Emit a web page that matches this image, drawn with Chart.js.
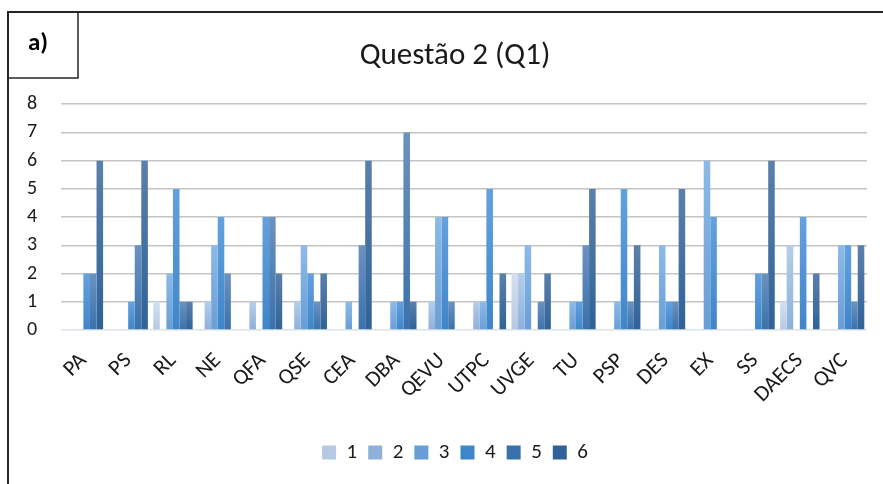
<!DOCTYPE html>
<html lang="pt">
  <head>
    <meta charset="UTF-8" />
    <title>Questão 2 (Q1)</title>
    <script src="https://cdn.jsdelivr.net/npm/chart.js@4"></script>
    <style>
      html, body { margin: 0; padding: 0; background: #fff; }
      #wrap { width: 883px; height: 484px; }
    </style>
  </head>
  <body>
    <div id="wrap"><canvas id="myChart" width="883" height="484"></canvas></div>

    <script>
      const labels = ['PA', 'PS', 'RL', 'NE', 'QFA', 'QSE', 'CEA', 'DBA', 'QEVU', 'UTPC',
                      'UVGE', 'TU', 'PSP', 'DES', 'EX', 'SS', 'DAECS', 'QVC'];
      const series1 = [0, 0, 1, 0, 0, 0, 0, 0, 0, 0, 2, 0, 0, 0, 0, 0, 1, 0];
      const series2 = [0, 0, 0, 1, 1, 1, 0, 0, 1, 1, 2, 0, 0, 0, 0, 0, 3, 0];
      const series3 = [0, 0, 2, 3, 0, 3, 1, 1, 4, 1, 3, 1, 1, 3, 6, 0, 0, 3];
      const series4 = [2, 1, 5, 4, 4, 2, 0, 1, 4, 5, 0, 1, 5, 1, 4, 2, 4, 3];
      const series5 = [2, 3, 1, 2, 4, 1, 3, 7, 1, 0, 1, 3, 1, 1, 0, 2, 0, 1];
      const series6 = [6, 6, 1, 0, 2, 2, 6, 1, 0, 2, 2, 5, 3, 5, 0, 6, 2, 3];
      const seriesNames = ['1', '2', '3', '4', '5', '6'];
      const yTicks = [0, 1, 2, 3, 4, 5, 6, 7, 8];

      // top / bottom / legend colour of each series
      const shades = [
        ['#d3e0f1', '#b6c9e3', '#c9d8ee'],
        ['#b5cdea', '#8eb0d9', '#a6c1e5'],
        ['#8dbae7', '#689ed6', '#7fb0e2'],
        ['#63a1e0', '#3e86c9', '#4f93d4'],
        ['#6b92c0', '#3b71ab', '#4a7fba'],
        ['#5b80ab', '#2f6298', '#3c6a9f']
      ];

      const font = 'Carlito, Lato, sans-serif';

      function barFill(c) {
        return function (ctx) {
          const chart = ctx.chart;
          if (ctx.type !== 'data' || !chart.chartArea) return c[2];
          const y = chart.scales.y;
          const top = y.getPixelForValue(ctx.raw);
          const bottom = y.getPixelForValue(0);
          if (!(bottom > top)) return c[1];
          const g = chart.ctx.createLinearGradient(0, top, 0, bottom);
          g.addColorStop(0, c[0]);
          g.addColorStop(1, c[1]);
          return g;
        };
      }

      const frame = {
        id: 'frame',
        beforeDraw(chart) {
          const ctx = chart.ctx;
          ctx.save();
          ctx.fillStyle = '#fff';
          ctx.fillRect(0, 0, chart.width, chart.height);
          ctx.strokeStyle = '#262626';
          ctx.lineWidth = 2;
          ctx.beginPath();
          ctx.moveTo(8, 484);
          ctx.lineTo(8, 12);
          ctx.lineTo(883, 12);
          ctx.stroke();
          ctx.lineWidth = 1.5;
          ctx.strokeRect(8, 12, 70, 66);
          ctx.fillStyle = '#000';
          ctx.font = 'bold 25px ' + font;
          ctx.textAlign = 'center';
          ctx.textBaseline = 'middle';
          ctx.fillText('a)', 38, 44);
          ctx.restore();
        }
      };

      const all = [series1, series2, series3, series4, series5, series6];

      const ctx = document.getElementById('myChart').getContext('2d');
      const myChart = new Chart(ctx, {
        type: 'bar',
        data: {
          labels: labels,
          datasets: all.map((d, i) => ({
            label: seriesNames[i],
            data: d,
            backgroundColor: barFill(shades[i]),
            borderWidth: 0,
            categoryPercentage: 0.88,
            barPercentage: 1.0
          }))
        },
        options: {
          responsive: false,
          animation: false,
          layout: { padding: { left: 43, right: 16, top: 12, bottom: 11 } },
          plugins: {
            title: {
              display: true,
              text: 'Questão 2 (Q1)',
              color: '#1a1a1a',
              font: { family: font, size: 31, weight: 'normal' },
              padding: { top: 26, bottom: 29 }
            },
            legend: {
              position: 'bottom',
              labels: {
                color: '#1a1a1a',
                font: { family: font, size: 21 },
                boxWidth: 14,
                boxHeight: 14,
                padding: 11
              }
            },
            tooltip: { enabled: false }
          },
          scales: {
            x: {
              grid: { display: false },
              border: { display: false },
              ticks: {
                color: '#1a1a1a',
                font: { family: font, size: 22 },
                minRotation: 45,
                maxRotation: 45,
                autoSkip: false,
                padding: 10
              },
              afterFit(s) { s.height = 101; }
            },
            y: {
              min: 0,
              max: 8,
              afterBuildTicks(s) { s.ticks = yTicks.map(v => ({ value: v })); },
              border: { display: false },
              grid: {
                drawTicks: false,
                lineWidth: 1.5,
                color: c => c.tick && c.tick.value === 0 ? '#dce3ec' : '#c4c4c4'
              },
              ticks: {
                mirror: true,
                color: '#1a1a1a',
                font: { family: font, size: 20 },
                padding: -34
              },
              afterFit(s) { s.width = 18; }
            }
          }
        },
        plugins: [frame]
      });
    </script>
  </body>
</html>
